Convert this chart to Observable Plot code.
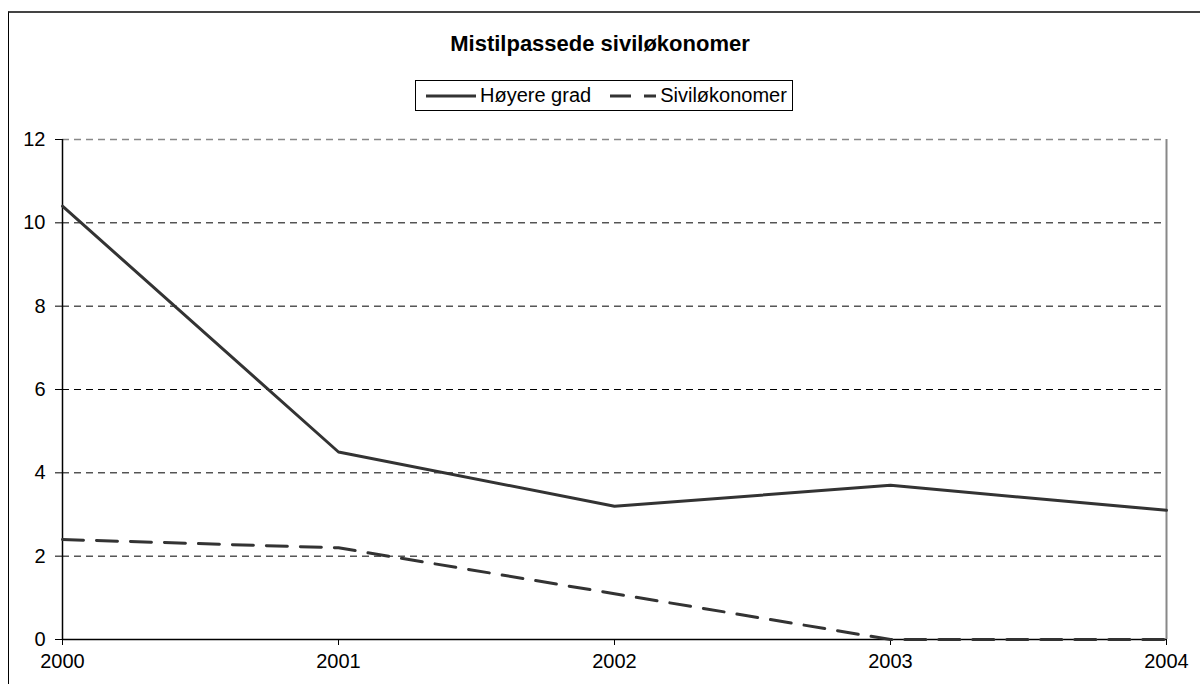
<!DOCTYPE html>
<html>
<head>
<meta charset="utf-8">
<script src="https://cdn.jsdelivr.net/npm/d3@7"></script>
<script src="https://cdn.jsdelivr.net/npm/@observablehq/plot@0.6"></script>
<style>
  html, body { margin: 0; padding: 0; background: #fff; }
  #wrap { position: relative; width: 1200px; height: 684px; overflow: hidden; font-family: "Liberation Sans", Arial, sans-serif; }
  #frame { position: absolute; left: 8px; top: 11px; width: 1300px; height: 800px; border-left: 1px solid #000; border-top: 2px solid #444; }
  #title { position: absolute; left: 0; width: 1200px; top: 31px; text-align: center; font-weight: bold; font-size: 22px; color: #000; }
  #legend { position: absolute; left: 415px; top: 80px; width: 378px; height: 31px; box-sizing: border-box; border: 1px solid #000; background: #fff; font-size: 20px; color: #000; display: flex; align-items: center; }
  #legend .item { display: flex; align-items: center; }
  #legend svg { display: block; }
  #chart { position: absolute; left: 0; top: 0; }
</style>
</head>
<body>
<div id="wrap">
  <div id="frame"></div>
  <div id="chart"></div>
  <div id="title"></div>
  <div id="legend"></div>
</div>
<script>
const chartTitle = "Mistilpassede siviløkonomer";
const years = [2000, 2001, 2002, 2003, 2004];
const hoyereGrad = [10.4, 4.5, 3.2, 3.7, 3.1];
const sivilokonomer = [2.4, 2.2, 1.1, 0, 0];
const yTicks = [0, 2, 4, 6, 8, 10, 12];
const seriesNames = ["Høyere grad", "Siviløkonomer"];
const seriesDash = ["none", "21,13"];

const rows = [];
years.forEach((yr, i) => {
  rows.push({year: yr, value: hoyereGrad[i], series: seriesNames[0]});
  rows.push({year: yr, value: sivilokonomer[i], series: seriesNames[1]});
});

const plot = Plot.plot({
  width: 1200,
  height: 684,
  marginLeft: 62,
  marginRight: 34,
  marginTop: 139,
  marginBottom: 45,
  x: {domain: [years[0], years[years.length - 1]]},
  y: {domain: [yTicks[0], yTicks[yTicks.length - 1]]},
  style: {fontFamily: "'Liberation Sans', Arial, sans-serif", fontSize: "20px", color: "#000", background: "transparent", overflow: "visible"},
  marks: [
    Plot.ruleY(yTicks.slice(1, -1), {stroke: "#000", strokeWidth: 1, strokeDasharray: "7,5"}),
    Plot.ruleY(yTicks.slice(-1), {stroke: "#888", strokeWidth: 1.5, strokeDasharray: "7,5"}),
    Plot.ruleX(years.slice(-1), {stroke: "#888", strokeWidth: 2}),
    Plot.ruleX(years.slice(0, 1), {stroke: "#000", strokeWidth: 1.5}),
    Plot.ruleY(yTicks.slice(0, 1), {stroke: "#000", strokeWidth: 1.5}),
    Plot.axisY({ticks: yTicks, tickSize: 7, tickPadding: 10, label: null, stroke: "#000", strokeOpacity: 1}),
    Plot.axisX({ticks: years, tickFormat: "d", tickSize: 6, tickPadding: 8, label: null, stroke: "#000", strokeOpacity: 1}),
    Plot.line(rows.filter(d => d.series === seriesNames[0]), {x: "year", y: "value", stroke: "#333", strokeWidth: 3}),
    Plot.line(rows.filter(d => d.series === seriesNames[1]), {x: "year", y: "value", stroke: "#333", strokeWidth: 3, strokeDasharray: seriesDash[1]})
  ]
});
document.getElementById("chart").appendChild(plot);
document.getElementById("title").textContent = chartTitle;

const legend = document.getElementById("legend");
const sampleSpecs = [
  {w: 50, pad: 10, dash: null, gapAfter: 19},
  {w: 46, pad: 0, dash: "21,13", gapAfter: 0}
];
seriesNames.forEach((name, i) => {
  const item = document.createElement("div");
  item.className = "item";
  const spec = sampleSpecs[i];
  item.style.marginLeft = spec.pad + "px";
  item.style.marginRight = spec.gapAfter + "px";
  const ns = "http://www.w3.org/2000/svg";
  const svg = document.createElementNS(ns, "svg");
  svg.setAttribute("width", spec.w);
  svg.setAttribute("height", 10);
  const ln = document.createElementNS(ns, "line");
  ln.setAttribute("x1", 0); ln.setAttribute("x2", spec.w);
  ln.setAttribute("y1", 5); ln.setAttribute("y2", 5);
  ln.setAttribute("stroke", "#333");
  ln.setAttribute("stroke-width", 3);
  if (spec.dash) ln.setAttribute("stroke-dasharray", spec.dash);
  svg.appendChild(ln);
  item.appendChild(svg);
  const t = document.createElement("span");
  t.textContent = name;
  t.style.marginLeft = "4px";
  item.appendChild(t);
  legend.appendChild(item);
});
</script>
</body>
</html>
